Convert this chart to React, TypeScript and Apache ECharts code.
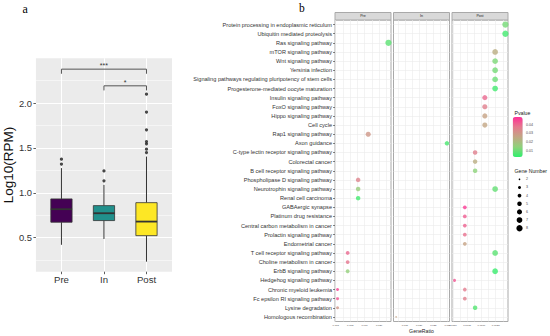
import React, { useEffect, useRef } from "react";
import * as echarts from "echarts";

// ---------------- Panel a : box plot ----------------
const groups = ["Pre", "In", "Post"];
const whiskerLow = [0.42, 0.485, 0.232];
const quartile1 = [0.672, 0.69, 0.522];
const medians = [0.817, 0.772, 0.679];
const quartile3 = [0.932, 0.857, 0.89];
const whiskerHigh = [1.275, 1.088, 1.404];
const outlierGroup = ["Pre", "Pre", "In", "In", "Post", "Post", "Post", "Post", "Post", "Post", "Post"];
const outlierValue = [1.32, 1.375, 1.133, 1.244, 1.449, 1.487, 1.546, 1.571, 1.702, 1.9, 2.1];
const sigFrom = ["Pre", "In"];
const sigTo = ["Post", "Post"];
const sigLevel = [2.379, 2.193];
const sigLabel = ["***", "*"];
const majorTicksA = [0.5, 1.0, 1.5, 2.0];
const minorTicksA = [0.25, 0.75, 1.25, 1.75, 2.25];

// ---------------- Panel b : KEGG dot plot ----------------
const pathways = [
  "Protein processing in endoplasmic reticulum",
  "Ubiquitin mediated proteolysis",
  "Ras signaling pathway",
  "mTOR signaling pathway",
  "Wnt signaling pathway",
  "Yersinia infection",
  "Signaling pathways regulating pluripotency of stem cells",
  "Progesterone-mediated oocyte maturation",
  "Insulin signaling pathway",
  "FoxO signaling pathway",
  "Hippo signaling pathway",
  "Cell cycle",
  "Rap1 signaling pathway",
  "Axon guidance",
  "C-type lectin receptor signaling pathway",
  "Colorectal cancer",
  "B cell receptor signaling pathway",
  "Phospholipase D signaling pathway",
  "Neurotrophin signaling pathway",
  "Renal cell carcinoma",
  "GABAergic synapse",
  "Platinum drug resistance",
  "Central carbon metabolism in cancer",
  "Prolactin signaling pathway",
  "Endometrial cancer",
  "T cell receptor signaling pathway",
  "Choline metabolism in cancer",
  "ErbB signaling pathway",
  "Hedgehog signaling pathway",
  "Chronic myeloid leukemia",
  "Fc epsilon RI signaling pathway",
  "Lysine degradation",
  "Homologous recombination",
];

// [pathway, GeneRatio, Pvalue, Gene Number]
type Term = [string, number, number, number];
const preTerms: Term[] = [
  ["Ras signaling pathway", 0.0226, 0.008, 8],
  ["Rap1 signaling pathway", 0.017, 0.03, 6],
  ["Phospholipase D signaling pathway", 0.0142, 0.035, 5],
  ["Neurotrophin signaling pathway", 0.0142, 0.016, 5],
  ["Renal cell carcinoma", 0.0142, 0.005, 5],
  ["T cell receptor signaling pathway", 0.0113, 0.04, 4],
  ["Choline metabolism in cancer", 0.0113, 0.038, 4],
  ["ErbB signaling pathway", 0.0113, 0.015, 4],
  ["Chronic myeloid leukemia", 0.0085, 0.046, 3],
  ["Fc epsilon RI signaling pathway", 0.0085, 0.043, 3],
  ["Lysine degradation", 0.0085, 0.03, 3],
];
const inTerms: Term[] = [
  ["Axon guidance", 0.0298, 0.006, 5],
  ["Homologous recombination", 0.0119, 0.027, 2],
];
const postTerms: Term[] = [
  ["Protein processing in endoplasmic reticulum", 0.0142, 0.011, 8],
  ["Ubiquitin mediated proteolysis", 0.0142, 0.005, 8],
  ["mTOR signaling pathway", 0.0124, 0.024, 7],
  ["Wnt signaling pathway", 0.0124, 0.012, 7],
  ["Yersinia infection", 0.0124, 0.011, 7],
  ["Signaling pathways regulating pluripotency of stem cells", 0.0124, 0.01, 7],
  ["Progesterone-mediated oocyte maturation", 0.0124, 0.005, 7],
  ["Insulin signaling pathway", 0.0106, 0.04, 6],
  ["FoxO signaling pathway", 0.0106, 0.036, 6],
  ["Hippo signaling pathway", 0.0106, 0.027, 6],
  ["Cell cycle", 0.0106, 0.026, 6],
  ["C-type lectin receptor signaling pathway", 0.0089, 0.036, 5],
  ["Colorectal cancer", 0.0089, 0.024, 5],
  ["B cell receptor signaling pathway", 0.0089, 0.014, 5],
  ["Neurotrophin signaling pathway", 0.0124, 0.009, 7],
  ["GABAergic synapse", 0.0071, 0.047, 4],
  ["Platinum drug resistance", 0.0071, 0.042, 4],
  ["Central carbon metabolism in cancer", 0.0071, 0.041, 4],
  ["Prolactin signaling pathway", 0.0071, 0.039, 4],
  ["Endometrial cancer", 0.0071, 0.027, 4],
  ["T cell receptor signaling pathway", 0.0124, 0.008, 7],
  ["ErbB signaling pathway", 0.0124, 0.004, 7],
  ["Hedgehog signaling pathway", 0.0053, 0.043, 3],
  ["Chronic myeloid leukemia", 0.0071, 0.037, 4],
  ["Fc epsilon RI signaling pathway", 0.0071, 0.036, 4],
  ["Lysine degradation", 0.0089, 0.007, 5],
];

const preTicks = [0.008, 0.012, 0.016, 0.02];
const preMinor = [0.01, 0.014, 0.018, 0.022];
const inTicks = [0.015, 0.02, 0.025, 0.03];
const inMinor = [0.0125, 0.0175, 0.0225, 0.0275];
const postTicks = [0.005, 0.0075, 0.01, 0.0125];
const postMinor = [0.00625, 0.00875, 0.01125, 0.01375];
const pLegendTicks = [0.01, 0.02, 0.03, 0.04];
const geneLegend = [2, 3, 4, 5, 6, 7, 8];

// ---------------- styles / layout ----------------
const boxColors = ["#440154", "#21908C", "#FDE725"];
const geneSize: Record<number, number> = { 2: 1.6, 3: 3.0, 4: 3.8, 5: 4.5, 6: 5.1, 7: 5.7, 8: 6.3 };
const pMin = 0.0026;
const pMax = 0.049;
const pColors = ["#2EF06C", "#8FD27A", "#C2A784", "#E47A8E", "#FF2E96"];
const SANS = "'Liberation Sans', Arial, sans-serif";
const SERIF = "'Liberation Serif', 'Times New Roman', serif";

export default function App() {
  const ref = useRef<HTMLDivElement>(null);

  useEffect(() => {
    if (!ref.current) return;
    const chart = echarts.init(ref.current, undefined, { renderer: "svg" });

    const grids: any[] = [
      { left: 33.3, top: 58.3, width: 138.7, height: 213.4, show: true, backgroundColor: "#EBEBEB", borderWidth: 0 },
    ];
    const xAxes: any[] = [
      {
        gridIndex: 0,
        type: "value",
        min: 0.4,
        max: 3.6,
        axisLine: { show: false },
        axisTick: { show: true, length: 2.5, customValues: [1, 2, 3], lineStyle: { color: "#333", width: 0.8 } },
        axisLabel: {
          customValues: [1, 2, 3],
          formatter: (v: number) => groups[Math.round(v) - 1],
          fontSize: 9.6,
          color: "#333",
          margin: 3,
          fontFamily: SANS,
        },
        splitLine: { show: true, lineStyle: { color: "#FFFFFF", width: 1 } },
      },
    ];
    const yAxes: any[] = [
      {
        gridIndex: 0,
        type: "value",
        min: 0.12,
        max: 2.5,
        name: "Log10(RPM)",
        nameLocation: "middle",
        nameRotate: 90,
        nameGap: 16,
        nameTextStyle: { fontSize: 13.5, color: "#111", fontFamily: SANS },
        axisLine: { show: false },
        axisTick: { show: true, length: 2.5, customValues: majorTicksA, lineStyle: { color: "#333", width: 0.8 } },
        axisLabel: {
          customValues: majorTicksA,
          formatter: (v: number) => v.toFixed(1),
          fontSize: 9.4,
          color: "#333",
          margin: 4,
          fontFamily: SANS,
        },
        splitLine: { show: true, lineStyle: { color: "#FFFFFF", width: 1 } },
      },
      {
        gridIndex: 0,
        type: "value",
        min: 0.12,
        max: 2.5,
        position: "left",
        axisLine: { show: false },
        axisTick: { show: false, customValues: minorTicksA },
        axisLabel: { show: false },
        splitLine: { show: true, lineStyle: { color: "#FFFFFF", width: 0.5 } },
      },
    ];

    const series: any[] = [
      {
        type: "custom",
        xAxisIndex: 0,
        yAxisIndex: 0,
        encode: { x: 0, y: [1, 2, 3, 4, 5] },
        data: groups.map((g, i) => [i + 1, whiskerLow[i], quartile1[i], medians[i], quartile3[i], whiskerHigh[i]]),
        renderItem: (params: any, api: any) => {
          const x = api.value(0);
          const lo = api.coord([x, api.value(1)]);
          const q1 = api.coord([x, api.value(2)]);
          const md = api.coord([x, api.value(3)]);
          const q3 = api.coord([x, api.value(4)]);
          const hi = api.coord([x, api.value(5)]);
          const w = api.size([0.5, 0])[0];
          const fill = boxColors[params.dataIndex];
          const stroke = "#333333";
          return {
            type: "group",
            children: [
              { type: "line", shape: { x1: hi[0], y1: hi[1], x2: q3[0], y2: q3[1] }, style: { stroke, lineWidth: 1 } },
              { type: "line", shape: { x1: lo[0], y1: lo[1], x2: q1[0], y2: q1[1] }, style: { stroke, lineWidth: 1 } },
              {
                type: "rect",
                shape: { x: q3[0] - w / 2, y: q3[1], width: w, height: q1[1] - q3[1] },
                style: { fill, stroke, lineWidth: 0.8 },
              },
              {
                type: "line",
                shape: { x1: md[0] - w / 2, y1: md[1], x2: md[0] + w / 2, y2: md[1] },
                style: { stroke, lineWidth: 1.8 },
              },
            ],
          };
        },
      },
      {
        type: "scatter",
        xAxisIndex: 0,
        yAxisIndex: 0,
        symbolSize: 3.2,
        itemStyle: { color: "#1A1A1A" },
        data: outlierGroup.map((g, i) => [groups.indexOf(g) + 1, outlierValue[i]]),
      },
      {
        type: "custom",
        xAxisIndex: 0,
        yAxisIndex: 0,
        encode: { x: [0, 1], y: 2 },
        data: sigFrom.map((g, i) => [groups.indexOf(g) + 1, groups.indexOf(sigTo[i]) + 1, sigLevel[i]]),
        renderItem: (params: any, api: any) => {
          const a = api.coord([api.value(0), api.value(2)]);
          const b = api.coord([api.value(1), api.value(2)]);
          const drop = 4.6;
          return {
            type: "group",
            children: [
              {
                type: "polyline",
                shape: { points: [[a[0], a[1] + drop], [a[0], a[1]], [b[0], b[1]], [b[0], b[1] + drop]] },
                style: { stroke: "#555555", lineWidth: 1, fill: "none" },
              },
              {
                type: "text",
                x: (a[0] + b[0]) / 2,
                y: a[1] - 3.5,
                style: {
                  text: sigLabel[params.dataIndex],
                  align: "center",
                  verticalAlign: "middle",
                  fontSize: 7,
                  fill: "#333",
                  fontFamily: SANS,
                },
              },
            ],
          };
        },
      },
    ];

    const facets = [
      { name: "Pre", left: 335, data: preTerms, range: [0.0078, 0.0233], ticks: preTicks, minor: preMinor, digits: 3 },
      { name: "In", left: 393.5, data: inTerms, range: [0.011, 0.0307], ticks: inTicks, minor: inMinor, digits: 3 },
      { name: "Post", left: 452, data: postTerms, range: [0.00486, 0.01465], ticks: postTicks, minor: postMinor, digits: 4 },
    ];
    const facetTop = 20;
    const facetH = 301.5;
    const facetW = 56;
    const graphics: any[] = [];

    facets.forEach((f, i) => {
      grids.push({
        left: f.left,
        top: facetTop,
        width: facetW,
        height: facetH,
        show: true,
        backgroundColor: "#FFFFFF",
        borderColor: "#A9A9A9",
        borderWidth: 1,
      });
      xAxes.push({
        gridIndex: i + 1,
        type: "value",
        min: f.range[0],
        max: f.range[1],
        axisLine: { show: false },
        axisTick: { show: false, customValues: [...f.ticks, ...f.minor].sort((a, b) => a - b) },
        axisLabel: {
          customValues: f.ticks,
          formatter: (v: number) => v.toFixed(f.digits),
          fontSize: 2.5,
          color: "#4D4D4D",
          margin: 2,
          fontFamily: SANS,
        },
        splitLine: { show: true, lineStyle: { color: "#EBEBEB", width: 0.6 } },
      });
      yAxes.push({
        gridIndex: i + 1,
        type: "category",
        data: pathways,
        inverse: true,
        axisLine: { show: false },
        axisTick: { show: i === 0, length: 2, alignWithLabel: true, lineStyle: { color: "#333", width: 0.6 } },
        axisLabel: { show: i === 0, interval: 0, fontSize: 5.6, color: "#333", margin: 3, fontFamily: SANS },
        splitLine: { show: true, alignWithLabel: true, lineStyle: { color: "#EBEBEB", width: 0.6 } },
      });
      series.push({
        type: "scatter",
        name: f.name,
        xAxisIndex: i + 1,
        yAxisIndex: i + 2,
        encode: { x: 0, y: 1 },
        data: f.data.map((d) => [d[1], d[0], d[2], d[3]]),
        symbolSize: (v: any) => geneSize[v[3]],
      });
      graphics.push({
        type: "rect",
        shape: { x: f.left, y: 12.5, width: facetW, height: 7.5 },
        style: { fill: "#D9D9D9", stroke: "#A9A9A9", lineWidth: 1 },
      });
      graphics.push({
        type: "text",
        x: f.left + facetW / 2,
        y: 16.3,
        style: { text: f.name, align: "center", verticalAlign: "middle", fontSize: 3.6, fill: "#1A1A1A", fontFamily: SANS },
      });
    });

    // panel letters and axis title
    graphics.push({
      type: "text",
      x: 22.5,
      y: 3,
      style: { text: "a", fontSize: 12, fill: "#000", fontFamily: SERIF, verticalAlign: "top" },
    });
    graphics.push({
      type: "text",
      x: 299,
      y: 1.5,
      style: { text: "b", fontSize: 11.5, fill: "#000", fontFamily: SERIF, verticalAlign: "top" },
    });
    graphics.push({
      type: "text",
      x: 421.5,
      y: 331,
      style: { text: "GeneRatio", align: "center", verticalAlign: "middle", fontSize: 5.2, fill: "#222", fontFamily: SANS },
    });

    // Pvalue legend
    const barLeft = 512.7;
    const barTop = 117;
    const barH = 40;
    graphics.push({
      type: "text",
      x: 514.5,
      y: 113,
      style: { text: "Pvalue", verticalAlign: "middle", fontSize: 5.2, fill: "#222", fontFamily: SANS },
    });
    pLegendTicks.forEach((v) => {
      const y = barTop + ((pMax - v) / (pMax - pMin)) * barH;
      graphics.push({
        type: "text",
        x: 526,
        y,
        style: { text: v.toFixed(2), verticalAlign: "middle", fontSize: 3.6, fill: "#4D4D4D", fontFamily: SANS },
      });
    });

    // Gene Number legend
    graphics.push({
      type: "text",
      x: 514.5,
      y: 171,
      style: { text: "Gene Number", verticalAlign: "middle", fontSize: 5.2, fill: "#222", fontFamily: SANS },
    });
    geneLegend.forEach((n, k) => {
      const y = 179.3 + k * 8.15;
      graphics.push({ type: "circle", shape: { cx: 519.5, cy: y, r: geneSize[n] / 2 }, style: { fill: "#000" } });
      graphics.push({
        type: "text",
        x: 526,
        y,
        style: { text: String(n), verticalAlign: "middle", fontSize: 3.6, fill: "#4D4D4D", fontFamily: SANS },
      });
    });

    chart.setOption({
      animation: false,
      textStyle: { fontFamily: SANS },
      grid: grids,
      xAxis: xAxes,
      yAxis: yAxes,
      visualMap: {
        type: "continuous",
        seriesIndex: [3, 4, 5],
        dimension: 2,
        min: pMin,
        max: pMax,
        inRange: { color: pColors },
        left: barLeft,
        top: barTop,
        itemWidth: 10,
        itemHeight: barH,
        calculable: false,
        padding: 0,
        orient: "vertical",
        hoverLink: false,
      },
      series,
      graphic: graphics,
    });

    return () => chart.dispose();
  }, []);

  return (
    <div
      ref={ref}
      style={{ position: "fixed", left: 0, top: 0, width: 550, height: 336, background: "#fff" }}
    />
  );
}
